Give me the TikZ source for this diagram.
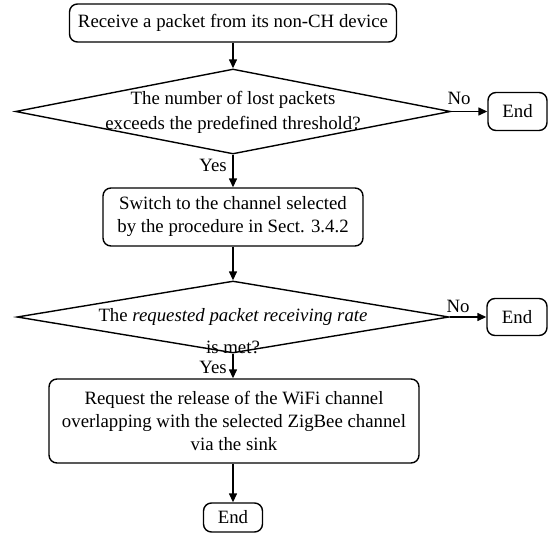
\documentclass[tikz,border=0pt]{standalone}
\usepackage{fontspec}
\setmainfont{Liberation Serif}
\usetikzlibrary{shapes.geometric,arrows.meta,calc}
\begin{document}
\begin{tikzpicture}[x=1pt,y=-1pt,
  font=\fontsize{18.8}{23}\selectfont,
  box/.style={draw, line width=1.4pt, rounded corners=8pt, inner sep=0pt, align=center},
  dia/.style={draw, line width=1.4pt, shape=diamond, inner sep=0pt},
  arr/.style={line width=1.4pt, -{Triangle[length=9pt,width=8pt]}},
  lbl/.style={inner sep=0pt}]
\useasboundingbox (0,0) rectangle (551,533);
% boxes
\node[box, minimum width=327pt, minimum height=38pt] (b1) at (233,23) {Receive a packet from its non-CH device};
\node[dia, minimum width=435pt, minimum height=85pt] (d1) at (233,111.5) {};
\node[lbl, align=center, font=\fontsize{18.8}{25}\selectfont] (t1) at (233,112) {The number of lost packets\\exceeds the predefined threshold?};
\node[box, minimum width=59pt, minimum height=38pt] (e1) at (517.5,111.5) {End};
\node[box, minimum width=260pt, minimum height=58pt] (b2) at (233,217) {Switch to the channel selected\\by the procedure in Sect. 3.4.2};
\node[dia, minimum width=432pt, minimum height=72pt] (d2) at (233,317) {};
\node[lbl, align=center, font=\fontsize{18.8}{32}\selectfont] (t2) at (233,331) {The \textit{requested packet receiving rate}\\is met?};
\node[box, minimum width=60pt, minimum height=37pt] (e2) at (517,317) {End};
\node[box, minimum width=370pt, minimum height=84pt] (b3) at (234,421) {Request the release of the WiFi channel\\overlapping with the selected ZigBee channel\\via the sink};
\node[box, minimum width=59pt, minimum height=29pt] (e3) at (233,517.5) {End};
% labels
\node[lbl] (no1) at (459,98) {No};
\node[lbl] (yes1) at (213,165) {Yes};
\node[lbl] (no2) at (458,306) {No};
\node[lbl] (yes2) at (213,367) {Yes};
% connectors
\draw[arr] (b1.south) -- (d1.north);
\draw[arr] (d1.east) -- (e1.west);
\draw[arr] (d1.south) -- (b2.north);
\draw[arr] (b2.south) -- (d2.north);
\draw[arr] (d2.east) -- (e2.west);
\draw[arr] (d2.south) -- (d2.south |- b3.north);
\draw[arr] (d2.south |- b3.south) -- (e3.north);
\end{tikzpicture}
\end{document}
